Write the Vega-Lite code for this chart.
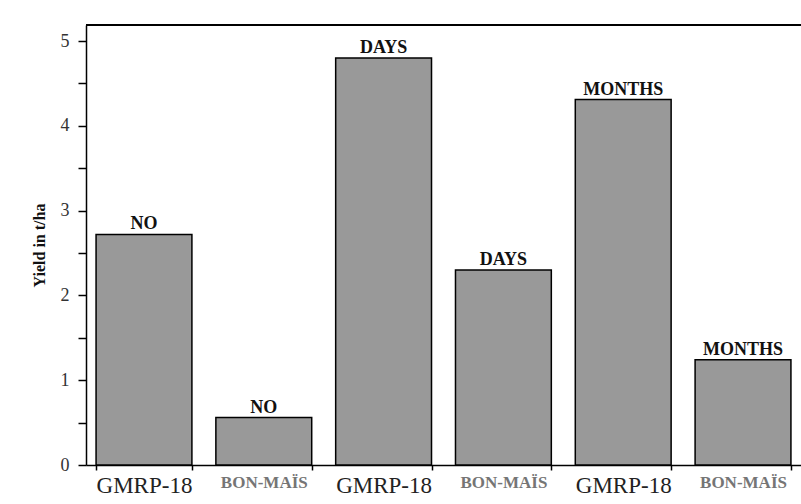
{
  "$schema": "https://vega.github.io/schema/vega-lite/v6.json",
  "width": 715,
  "height": 440,
  "autosize": {"type": "none"},
  "padding": {"left": 86, "top": 25, "right": 0, "bottom": 39},
  "background": "white",
  "config": {"view": {"stroke": null}, "font": "Liberation Serif"},
  "data": {
    "values": [
      {"cat": "GMRP-18|NO", "variety": "GMRP-18", "treatment": "NO", "amount": 2.72},
      {"cat": "BON-MAÏS|NO", "variety": "BON-MAÏS", "treatment": "NO", "amount": 0.56},
      {"cat": "GMRP-18|DAYS", "variety": "GMRP-18", "treatment": "DAYS", "amount": 4.8},
      {"cat": "BON-MAÏS|DAYS", "variety": "BON-MAÏS", "treatment": "DAYS", "amount": 2.3},
      {"cat": "GMRP-18|MONTHS", "variety": "GMRP-18", "treatment": "MONTHS", "amount": 4.31},
      {"cat": "BON-MAÏS|MONTHS", "variety": "BON-MAÏS", "treatment": "MONTHS", "amount": 1.24}
    ]
  },
  "layer": [
    {
      "mark": {"type": "bar", "fill": "#999999", "stroke": "#000000", "strokeWidth": 1.5},
      "encoding": {
        "x": {
          "field": "cat", "type": "nominal", "sort": null,
          "scale": {"paddingInner": 0.2, "paddingOuter": 0.084},
          "axis": {
            "orient": "bottom",
            "title": null,
            "labelAngle": 0,
            "labelExpr": "split(datum.label, '|')[0]",
            "labelFont": "Liberation Serif",
            "labelFontSize": {"condition": {"test": "indexof(datum.label, 'GMRP') == 0", "value": 23}, "value": 17},
            "labelFontWeight": {"condition": {"test": "indexof(datum.label, 'GMRP') == 0", "value": "normal"}, "value": "bold"},
            "labelColor": {"condition": {"test": "indexof(datum.label, 'GMRP') == 0", "value": "#222222"}, "value": "#757575"},
            "labelPadding": 4,
            "tickBand": "extent",
            "tickSize": 5,
            "tickWidth": 1.5,
            "tickColor": "#000000",
            "domainColor": "#000000",
            "domainWidth": 1.5,
            "grid": false
          }
        },
        "y": {
          "field": "amount", "type": "quantitative",
          "scale": {"domain": [0, 5.19], "nice": false},
          "axis": {
            "title": "Yield in t/ha",
            "titleFont": "Liberation Serif",
            "titleFontSize": 16,
            "titleFontWeight": "bold",
            "titleColor": "#111111",
            "titlePadding": 13,
            "values": [0, 0.5, 1, 1.5, 2, 2.5, 3, 3.5, 4, 4.5, 5],
            "labelExpr": "datum.value % 1 == 0 ? format(datum.value, 'd') : ''",
            "labelFont": "Liberation Serif",
            "labelFontSize": 18,
            "labelColor": "#333333",
            "labelPadding": 9,
            "tickSize": 8,
            "tickWidth": 1.5,
            "tickColor": "#000000",
            "domainColor": "#000000",
            "domainWidth": 1.5,
            "grid": false
          }
        }
      }
    },
    {
      "mark": {"type": "text", "font": "Liberation Serif", "fontWeight": "bold", "fontSize": 18, "dy": -5, "baseline": "alphabetic", "color": "#111111"},
      "encoding": {
        "x": {"field": "cat", "type": "nominal", "sort": null},
        "y": {"field": "amount", "type": "quantitative"},
        "text": {"field": "treatment"}
      }
    },
    {
      "mark": {"type": "rule", "color": "#000000", "strokeWidth": 1.5},
      "encoding": {"y": {"datum": 5.19}}
    }
  ]
}
